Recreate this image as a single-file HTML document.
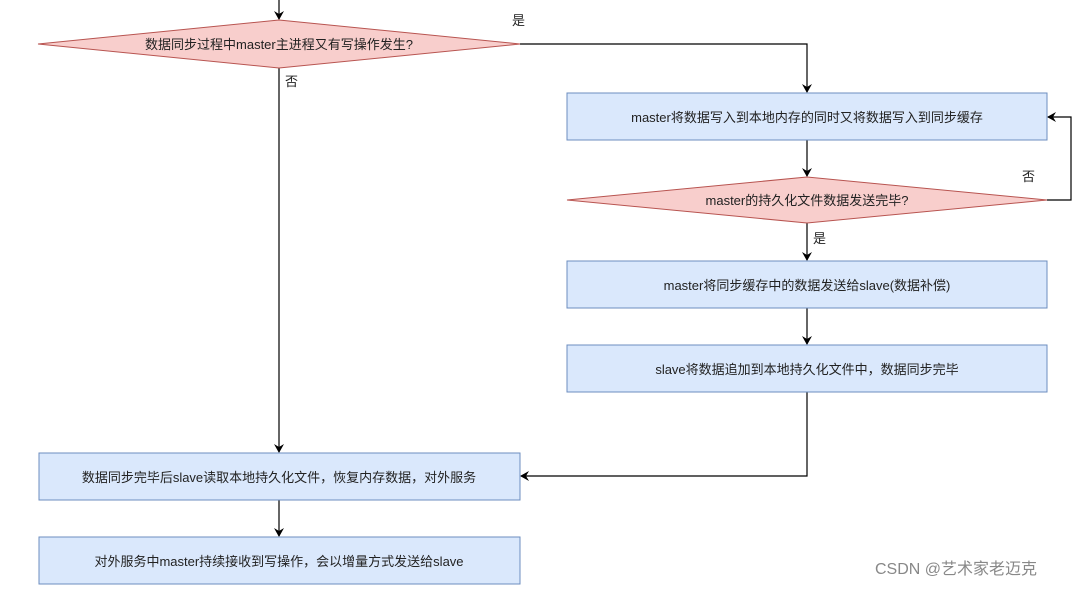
<!DOCTYPE html>
<html><head><meta charset="utf-8"><style>
body{margin:0;background:#fff;}
svg text{font-family:"Liberation Sans","Noto Sans CJK SC",sans-serif;font-size:13px;fill:#222;}
</style></head><body>
<svg width="1081" height="587" viewBox="0 0 1081 587" xmlns="http://www.w3.org/2000/svg">
<defs><marker id="a" markerWidth="10" markerHeight="10" refX="8" refY="5" orient="auto" markerUnits="userSpaceOnUse"><path d="M0,0 L9,5 L0,10 L3,5 z" fill="#000"/></marker></defs>
<g stroke="#000" stroke-width="1.2" fill="none">
<line x1="279" y1="0" x2="279" y2="19" marker-end="url(#a)"/>
<polyline points="520,44 807,44 807,92" marker-end="url(#a)"/>
<line x1="279" y1="68" x2="279" y2="452" marker-end="url(#a)"/>
<line x1="807" y1="140" x2="807" y2="176" marker-end="url(#a)"/>
<polyline points="1047,200 1071,200 1071,117 1048,117" marker-end="url(#a)"/>
<line x1="807" y1="223" x2="807" y2="260" marker-end="url(#a)"/>
<line x1="807" y1="308" x2="807" y2="344" marker-end="url(#a)"/>
<polyline points="807,392 807,476 521,476" marker-end="url(#a)"/>
<line x1="279" y1="500" x2="279" y2="536" marker-end="url(#a)"/>
</g>
<g stroke="#b85450" fill="#f8cecc">
<polygon points="38,44 279,20 520,44 279,68"/>
<polygon points="567,200 807,177 1047,200 807,223"/>
</g>
<g stroke="#6c8ebf" fill="#dae8fc">
<rect x="567" y="93" width="480" height="47"/>
<rect x="567" y="261" width="480" height="47"/>
<rect x="567" y="345" width="480" height="47"/>
<rect x="39" y="453" width="481" height="47"/>
<rect x="39" y="537" width="481" height="47"/>
</g>
<g text-anchor="middle">
<text x="279" y="49">数据同步过程中master主进程又有写操作发生?</text>
<text x="807" y="122">master将数据写入到本地内存的同时又将数据写入到同步缓存</text>
<text x="807" y="205">master的持久化文件数据发送完毕?</text>
<text x="807" y="290">master将同步缓存中的数据发送给slave(数据补偿)</text>
<text x="807" y="374">slave将数据追加到本地持久化文件中，数据同步完毕</text>
<text x="279" y="482">数据同步完毕后slave读取本地持久化文件，恢复内存数据，对外服务</text>
<text x="279" y="566">对外服务中master持续接收到写操作，会以增量方式发送给slave</text>
</g>
<text x="512" y="25">是</text>
<text x="285" y="86">否</text>
<text x="1022" y="181">否</text>
<text x="813" y="243">是</text>
<text x="875" y="574" style="font-size:16px;fill:#888">CSDN @艺术家老迈克</text>
</svg>
</body></html>
